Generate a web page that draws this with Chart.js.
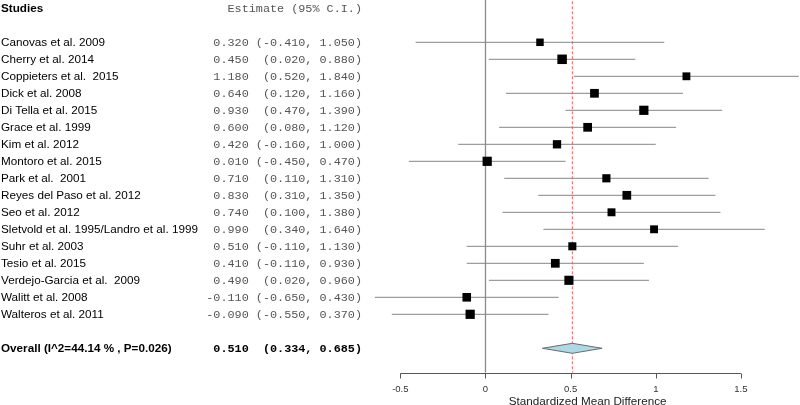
<!DOCTYPE html>
<html>
<head>
<meta charset="utf-8">
<script src="https://cdn.jsdelivr.net/npm/chart.js@4"></script>
<style>
  body { margin: 0; background: #fff; }
</style>
</head>
<body>
<canvas id="forest" width="800" height="405"></canvas>
<script>
// studies and their effect sizes (standardized mean difference, 95% CI)
const studies = [
  "Canovas et al. 2009", "Cherry et al. 2014", "Coppieters et al.  2015",
  "Dick et al. 2008", "Di Tella et al. 2015", "Grace et al. 1999",
  "Kim et al. 2012", "Montoro et al. 2015", "Park et al.  2001",
  "Reyes del Paso et al. 2012", "Seo et al. 2012",
  "Sletvold et al. 1995/Landro et al. 1999", "Suhr et al. 2003",
  "Tesio et al. 2015", "Verdejo-Garcia et al.  2009", "Walitt et al. 2008",
  "Walteros et al. 2011"
];
const estimates = [0.32, 0.45, 1.18, 0.64, 0.93, 0.60, 0.42, 0.01, 0.71, 0.83, 0.74, 0.99, 0.51, 0.41, 0.49, -0.11, -0.09];
const lowerCI   = [-0.41, 0.02, 0.52, 0.12, 0.47, 0.08, -0.16, -0.45, 0.11, 0.31, 0.10, 0.34, -0.11, -0.11, 0.02, -0.65, -0.55];
const upperCI   = [1.05, 0.88, 1.84, 1.16, 1.39, 1.12, 1.00, 0.47, 1.31, 1.35, 1.38, 1.64, 1.13, 0.93, 0.96, 0.43, 0.37];

const overallLabel = "Overall (I^2=44.14 % , P=0.026)";
const overallEst = 0.510;
const overallLo = 0.334;
const overallHi = 0.685;

const xTicks = [-0.5, 0, 0.5, 1, 1.5];

// row layout: header on row 0, studies from row 2, overall two rows below last study
const firstRow = 2;
const rows = studies.map((s, i) => firstRow + i);
const overallRow = firstRow + studies.length + 1;
const axisRow = 21.43;

// box size from approx. random-effects weight
const tau2 = 0.05;
const weights = lowerCI.map((lo, i) => {
  const se = (upperCI[i] - lo) / 3.92;
  return 1 / (se * se + tau2);
});
const wMin = Math.min(...weights), wMax = Math.max(...weights);
const boxRadius = weights.map(w => (7.5 + 2 * (w - wMin) / (wMax - wMin)) / (2 * Math.SQRT1_2));

function ciText(e, lo, hi) {
  const ci = ("(" + lo.toFixed(3) + ", " + hi.toFixed(3) + ")").padStart(15);
  return e.toFixed(3) + " " + ci;
}

const datasets = [];

// squares
datasets.push({
  data: estimates.map((e, i) => ({ x: e, y: rows[i] })),
  pointStyle: "rect",
  pointRadius: boxRadius,
  pointBorderWidth: 0,
  backgroundColor: "#000",
  borderColor: "#000",
  showLine: false
});

// confidence intervals
lowerCI.forEach((lo, i) => {
  datasets.push({
    data: [{ x: lo, y: rows[i] }, { x: upperCI[i], y: rows[i] }],
    showLine: true,
    borderColor: "#858585",
    borderWidth: 1,
    pointRadius: 0
  });
});

// reference lines
datasets.push({
  data: [{ x: overallEst, y: -1 }, { x: overallEst, y: axisRow }],
  showLine: true,
  borderColor: "#ff5a5a",
  borderWidth: 1,
  borderDash: [3, 2],
  pointRadius: 0
});
datasets.push({
  data: [{ x: 0, y: -1 }, { x: 0, y: axisRow }],
  showLine: true,
  borderColor: "#8a8a8a",
  borderWidth: 1.3,
  pointRadius: 0
});

const forestText = {
  id: "forestText",
  afterDraw(chart) {
    const ctx = chart.ctx;
    const xs = chart.scales.x, ys = chart.scales.y;
    ctx.save();

    // summary diamond
    const dy = ys.getPixelForValue(overallRow);
    ctx.beginPath();
    ctx.moveTo(xs.getPixelForValue(overallLo), dy);
    ctx.lineTo(xs.getPixelForValue(overallEst), dy - 5);
    ctx.lineTo(xs.getPixelForValue(overallHi), dy);
    ctx.lineTo(xs.getPixelForValue(overallEst), dy + 5);
    ctx.closePath();
    ctx.fillStyle = "#add8e6";
    ctx.fill();
    ctx.strokeStyle = "#6b6b6b";
    ctx.lineWidth = 1;
    ctx.stroke();

    // x axis
    const ay = Math.round(ys.getPixelForValue(axisRow)) + 0.5;
    ctx.strokeStyle = "#555";
    ctx.lineWidth = 1;
    ctx.beginPath();
    ctx.moveTo(xs.getPixelForValue(xTicks[0]), ay);
    ctx.lineTo(xs.getPixelForValue(xTicks[xTicks.length - 1]), ay);
    xTicks.forEach(t => {
      const px = Math.round(xs.getPixelForValue(t)) + 0.5;
      ctx.moveTo(px, ay);
      ctx.lineTo(px, ay + 5);
    });
    ctx.stroke();

    ctx.fillStyle = "#333";
    ctx.font = "9.5px 'Liberation Sans', Arial, sans-serif";
    ctx.textAlign = "center";
    ctx.textBaseline = "middle";
    xTicks.forEach(t => ctx.fillText(String(t), xs.getPixelForValue(t), ay + 16));

    ctx.fillStyle = "#222";
    ctx.font = "11.7px 'Liberation Sans', Arial, sans-serif";
    ctx.fillText("Standardized Mean Difference", xs.getPixelForValue(0.6), ay + 28);

    // left columns
    const colRight = 362;
    const textDy = 0.8;
    ctx.textBaseline = "middle";
    ctx.textAlign = "left";
    ctx.fillStyle = "#000";
    ctx.font = "bold 11.7px 'Liberation Sans', Arial, sans-serif";
    ctx.fillText("Studies", 1, ys.getPixelForValue(0) + textDy);
    ctx.textAlign = "right";
    ctx.fillStyle = "#555";
    ctx.font = "11.8px 'Liberation Mono', 'Courier New', monospace";
    ctx.fillText("Estimate (95% C.I.)", colRight, ys.getPixelForValue(0) + textDy);

    studies.forEach((s, i) => {
      const py = ys.getPixelForValue(rows[i]) + textDy;
      ctx.textAlign = "left";
      ctx.fillStyle = "#000";
      ctx.font = "11.7px 'Liberation Sans', Arial, sans-serif";
      ctx.fillText(s, 1, py);
      ctx.textAlign = "right";
      ctx.fillStyle = "#555";
      ctx.font = "11.8px 'Liberation Mono', 'Courier New', monospace";
      ctx.fillText(ciText(estimates[i], lowerCI[i], upperCI[i]), colRight, py);
    });

    const oy = ys.getPixelForValue(overallRow) + textDy;
    ctx.textAlign = "left";
    ctx.fillStyle = "#000";
    ctx.font = "bold 11.7px 'Liberation Sans', Arial, sans-serif";
    ctx.fillText(overallLabel, 1, oy);
    ctx.textAlign = "right";
    ctx.font = "bold 11.8px 'Liberation Mono', 'Courier New', monospace";
    ctx.fillText(ciText(overallEst, overallLo, overallHi), colRight, oy);

    ctx.restore();
  }
};

new Chart("forest", {
  type: "scatter",
  data: { datasets: datasets },
  options: {
    responsive: false,
    animation: false,
    layout: { padding: 0, autoPadding: false },
    plugins: { legend: { display: false }, tooltip: { enabled: false } },
    scales: {
      x: { type: "linear", min: -2.851, max: 1.847, display: false },
      y: { type: "linear", min: -0.488, max: 23.335, reverse: true, display: false }
    }
  },
  plugins: [forestText]
});
</script>
</body>
</html>
